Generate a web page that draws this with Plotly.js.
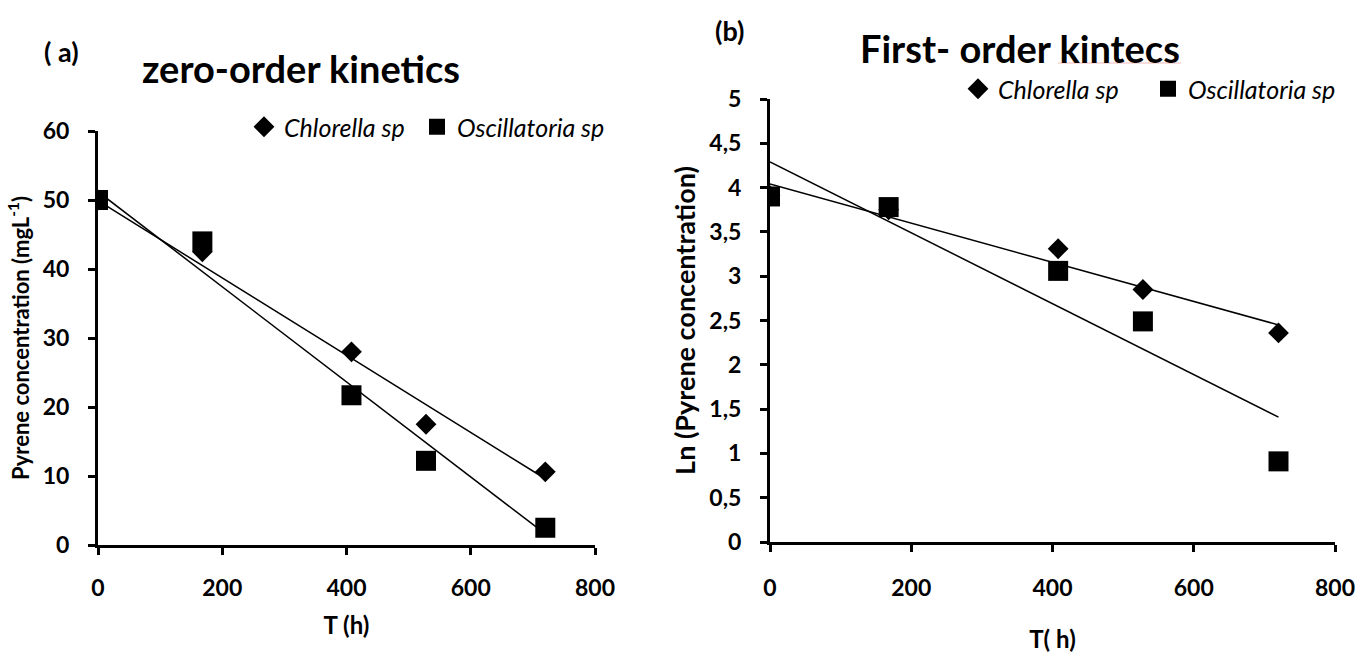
<!DOCTYPE html>
<html>
<head>
<meta charset="utf-8">
<script src="https://cdn.plot.ly/plotly-3.0.1.min.js"></script>
<style>html,body{margin:0;padding:0;background:#fff;}#chart{width:1362px;height:656px;}</style>
</head>
<body>
<div id="chart"></div>
<script>
// ---- data ----
const tHours = [0, 168, 408, 528, 720];
const chlorellaConc = [50, 42.5, 28, 17.5, 10.6];
const oscillatoriaConc = [50, 44, 21.7, 12.2, 2.5];
const chlorellaLn = [3.91, 3.75, 3.31, 2.85, 2.36];
const oscillatoriaLn = [3.90, 3.78, 3.06, 2.49, 0.91];
const trendT = [0, 720];
const chlorellaConcTrend = [49.9, 9.6];
const oscillatoriaConcTrend = [51.2, 1.6];
const chlorellaLnTrend = [4.04, 2.45];
const oscillatoriaLnTrend = [4.29, 1.41];
const seriesNames = ['Chlorella sp', 'Oscillatoria sp'];
const xTicks = [0, 200, 400, 600, 800];

const FONT = 'Lato, "Open Sans", sans-serif';
const W = 1362, H = 656;
const px = v => v / W;
const py = v => 1 - v / H;

const diamond = {symbol: 'diamond', size: 16, color: '#000'};
const square = {symbol: 'square', size: 20, color: '#000'};
const trendLine = {color: '#000', width: 1.5};

const traces = [
  {x: tHours, y: chlorellaConc, type: 'scatter', mode: 'markers', name: seriesNames[0], marker: diamond, xaxis: 'x', yaxis: 'y', legend: 'legend'},
  {x: tHours, y: oscillatoriaConc, type: 'scatter', mode: 'markers', name: seriesNames[1], marker: square, xaxis: 'x', yaxis: 'y', legend: 'legend3'},
  {x: trendT, y: chlorellaConcTrend, type: 'scatter', mode: 'lines', line: trendLine, showlegend: false, xaxis: 'x', yaxis: 'y'},
  {x: trendT, y: oscillatoriaConcTrend, type: 'scatter', mode: 'lines', line: trendLine, showlegend: false, xaxis: 'x', yaxis: 'y'},
  {x: tHours, y: chlorellaLn, type: 'scatter', mode: 'markers', name: seriesNames[0], marker: diamond, xaxis: 'x2', yaxis: 'y2', legend: 'legend2'},
  {x: tHours, y: oscillatoriaLn, type: 'scatter', mode: 'markers', name: seriesNames[1], marker: square, xaxis: 'x2', yaxis: 'y2', legend: 'legend4'},
  {x: trendT, y: chlorellaLnTrend, type: 'scatter', mode: 'lines', line: trendLine, showlegend: false, xaxis: 'x2', yaxis: 'y2'},
  {x: trendT, y: oscillatoriaLnTrend, type: 'scatter', mode: 'lines', line: trendLine, showlegend: false, xaxis: 'x2', yaxis: 'y2'}
];

const tickFont = {family: FONT, size: 23, color: '#000', weight: 'bold'};
const axisBase = {
  showline: true, linecolor: '#000', linewidth: 3, mirror: false,
  ticks: 'outside', ticklen: 7, tickwidth: 3, tickcolor: '#000',
  showgrid: false, zeroline: false, tickfont: tickFont, fixedrange: true
};

function legendAt(xPix, yPix) {
  return {
    orientation: 'h', x: px(xPix), xanchor: 'left', y: py(yPix), yanchor: 'middle',
    font: {family: FONT, size: 25, style: 'italic', color: '#000'},
    bgcolor: 'rgba(0,0,0,0)', borderwidth: 0, itemclick: false
  };
}

const layout = {
  width: W, height: H,
  margin: {l: 0, r: 0, t: 0, b: 0},
  paper_bgcolor: '#fff', plot_bgcolor: '#fff',
  separators: ', ',
  font: {family: FONT, color: '#000'},
  showlegend: true,
  xaxis: Object.assign({}, axisBase, {
    domain: [px(98), px(595)], range: [0, 800], tickvals: xTicks, ticklabelstandoff: 13,
    anchor: 'y',
    title: {text: 'T (h)', font: {family: FONT, size: 24, weight: 'bold', color: '#000'}, standoff: 18}
  }),
  yaxis: Object.assign({}, axisBase, {
    domain: [py(545), py(131)], range: [0, 60], dtick: 10, ticklabelstandoff: 14,
    anchor: 'x',
    title: {text: 'Pyrene concentration (mgL<sup>-1</sup>)', font: {family: FONT, size: 22, weight: 'bold', color: '#000'}, standoff: 8}
  }),
  xaxis2: Object.assign({}, axisBase, {
    domain: [px(770), px(1335)], range: [0, 800], tickvals: xTicks, ticklabelstandoff: 16,
    anchor: 'y2',
    title: {text: 'T( h)', font: {family: FONT, size: 24, weight: 'bold', color: '#000'}, standoff: 32}
  }),
  yaxis2: Object.assign({}, axisBase, {
    domain: [py(542), py(99)], range: [0, 5], dtick: 0.5, tickformat: '.1~f', ticklabelstandoff: 14,
    anchor: 'x2',
    title: {text: 'Ln (Pyrene concentration)', font: {family: FONT, size: 27, weight: 'bold', color: '#000'}, standoff: 6}
  }),
  legend: legendAt(244, 127),
  legend3: legendAt(417, 127),
  legend2: legendAt(958, 89),
  legend4: legendAt(1148, 89),
  annotations: [
    {text: '( a)', xref: 'paper', yref: 'paper', x: px(61), y: py(52), xanchor: 'center', yanchor: 'middle', showarrow: false,
     font: {family: FONT, size: 27, weight: 'bold', color: '#000'}},
    {text: 'zero-order kinetics', xref: 'paper', yref: 'paper', x: px(301), y: py(68), xanchor: 'center', yanchor: 'middle', showarrow: false,
     font: {family: FONT, size: 38, weight: 'bold', color: '#000'}},
    {text: '(b)', xref: 'paper', yref: 'paper', x: px(729), y: py(31), xanchor: 'center', yanchor: 'middle', showarrow: false,
     font: {family: FONT, size: 27, weight: 'bold', color: '#000'}},
    {text: 'First- order kintecs', xref: 'paper', yref: 'paper', x: px(1020), y: py(48), xanchor: 'center', yanchor: 'middle', showarrow: false,
     font: {family: FONT, size: 38, weight: 'bold', color: '#000'}}
  ],
  shapes: [
    {type: 'line', xref: 'paper', yref: 'paper', x0: px(1058), x1: px(1181), y0: py(63), y1: py(63), line: {color: '#f2b8b8', width: 1}}
  ]
};

Plotly.newPlot('chart', traces, layout, {displayModeBar: false, staticPlot: true});
</script>
</body>
</html>
